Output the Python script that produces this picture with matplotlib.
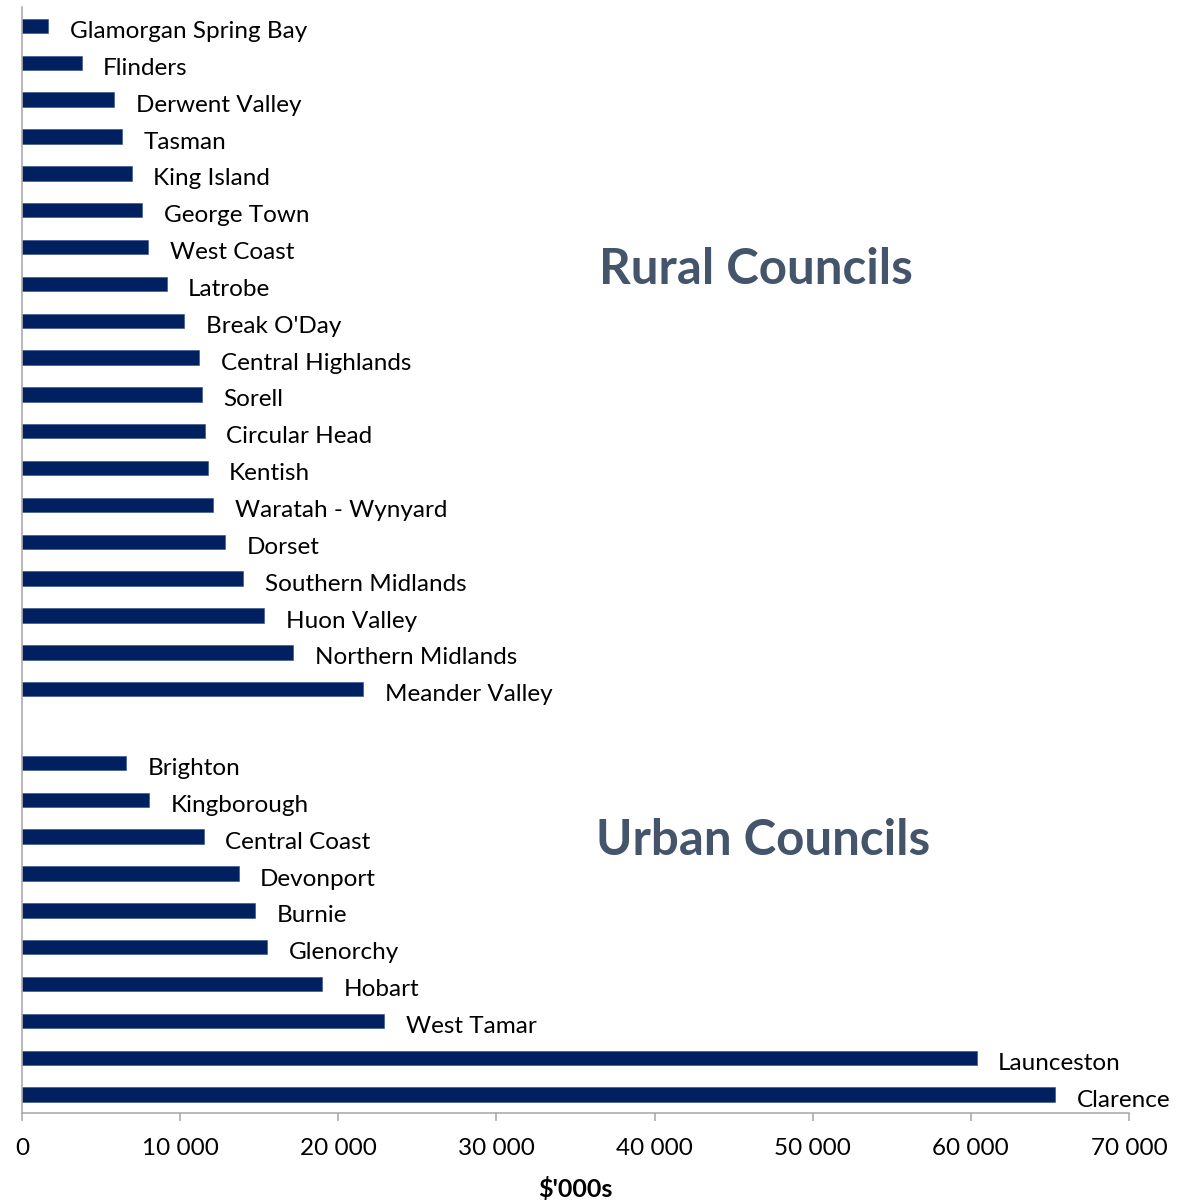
import matplotlib
matplotlib.use("Agg")
import matplotlib.pyplot as plt
from matplotlib.ticker import FuncFormatter, MultipleLocator

plt.rcParams['font.family'] = ['Lato', 'DejaVu Sans']

# Rural councils, listed top to bottom ($'000s)
rural_names = [
    "Glamorgan Spring Bay", "Flinders", "Derwent Valley", "Tasman", "King Island",
    "George Town", "West Coast", "Latrobe", "Break O'Day", "Central Highlands",
    "Sorell", "Circular Head", "Kentish", "Waratah - Wynyard", "Dorset",
    "Southern Midlands", "Huon Valley", "Northern Midlands", "Meander Valley",
]
rural_values = [
    1660, 3775, 5820, 6300, 6940,
    7610, 7990, 9150, 10260, 11210,
    11360, 11570, 11730, 12080, 12860,
    13990, 15320, 17140, 21580,
]

# Urban councils, listed top to bottom ($'000s)
urban_names = [
    "Brighton", "Kingborough", "Central Coast", "Devonport", "Burnie",
    "Glenorchy", "Hobart", "West Tamar", "Launceston", "Clarence",
]
urban_values = [
    6580, 8050, 11490, 13700, 14720,
    15510, 18970, 22910, 60370, 65320,
]

group_titles = ["Rural Councils", "Urban Councils"]
x_label = "$'000s"

bar_color = "#002060"
title_color = "#44546A"
axis_color = "#A6A6A6"

# one empty row separates the two groups
names = rural_names + urban_names
values = rural_values + urban_values
positions = list(range(len(rural_names))) + \
    [len(rural_names) + 1 + i for i in range(len(urban_names))]
n_rows = len(rural_names) + 1 + len(urban_names)

fig = plt.figure(figsize=(11.77, 12), dpi=100)
ax = fig.add_axes([22 / 1177, 1 - 1113 / 1200, (1129 - 22) / 1177, (1113 - 7.5) / 1200])

ax.barh(positions, values, height=0.39, color=bar_color, edgecolor="#2E4A8A", linewidth=0.4)

for y, v, name in zip(positions, values, names):
    ax.annotate(name, xy=(v, y), xytext=(15.5, -4), textcoords="offset points",
                ha="left", va="center", fontsize=17.5, color="black")

ax.set_xlim(0, 70000)
ax.set_ylim(n_rows - 0.5, -0.5)

ax.xaxis.set_major_locator(MultipleLocator(10000))
ax.xaxis.set_major_formatter(FuncFormatter(lambda v, _: f"{int(v):,}".replace(",", " ")))
ax.tick_params(axis="x", direction="out", length=6, width=1.1, color=axis_color,
               labelsize=17.5, pad=12)
ax.set_yticks([])

for side in ("top", "right"):
    ax.spines[side].set_visible(False)
for side in ("left", "bottom"):
    ax.spines[side].set_color(axis_color)
    ax.spines[side].set_linewidth(1.1)

ax.set_xlabel(x_label, fontsize=18, fontweight="bold", labelpad=13)

ax.text(36500, 6.6, group_titles[0], ha="left", va="center", fontsize=35.5,
        fontweight="bold", color=title_color)
ax.text(36300, 22.1, group_titles[1], ha="left", va="center", fontsize=35.5,
        fontweight="bold", color=title_color)

fig.savefig("out.png", dpi=100)
